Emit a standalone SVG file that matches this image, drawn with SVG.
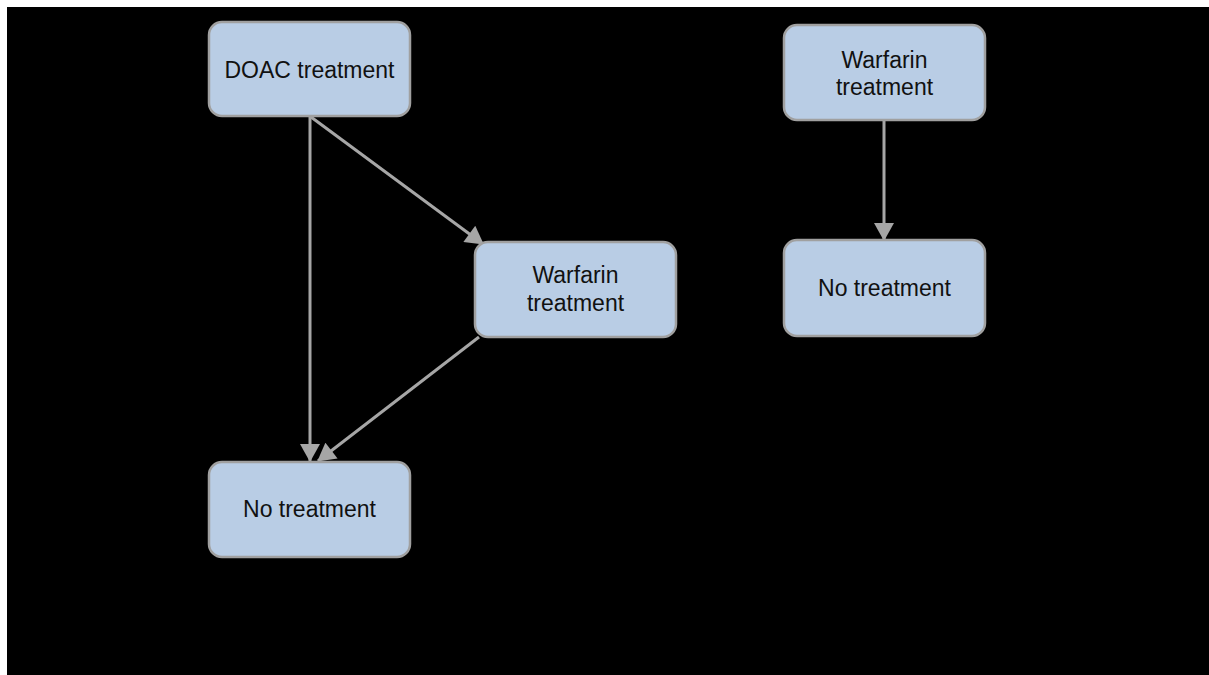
<svg xmlns="http://www.w3.org/2000/svg" width="1209" height="675" viewBox="0 0 1209 675">
  <style>
    .box { fill: #b9cde5; stroke: #a0a0a0; stroke-width: 2.5; }
    .lbl { font-family: "Liberation Sans", Arial, sans-serif; font-size: 23px; fill: #111111; text-anchor: middle; }
    .edge { stroke: #a6a6a6; stroke-width: 3; fill: none; marker-end: url(#arrow); }
  </style>
  <defs>
    <marker id="arrow" markerUnits="userSpaceOnUse" markerWidth="20" markerHeight="20" viewBox="0 0 18 20" refX="17" refY="10" orient="auto">
      <path d="M0,0 L18,10 L0,20 Z" fill="#a6a6a6"/>
    </marker>
  </defs>

  <rect x="0" y="0" width="1209" height="675" fill="#ffffff"/>
  <rect x="7" y="7" width="1202" height="668" fill="#000000"/>

  <g id="connectors">
    <line class="edge" x1="310" y1="117" x2="310" y2="461"/>
    <line class="edge" x1="311" y1="117" x2="483" y2="244"/>
    <line class="edge" x1="479" y1="337" x2="318" y2="461"/>
    <line class="edge" x1="884" y1="121" x2="884" y2="240"/>
  </g>

  <g id="doac">
    <rect class="box" x="209" y="22" width="201" height="94" rx="13"/>
    <text class="lbl" x="309.5" y="78">DOAC treatment</text>
  </g>

  <g id="warfarin-left">
    <rect class="box" x="475" y="242" width="201" height="95" rx="13"/>
    <text class="lbl" x="575.5" y="283">Warfarin</text>
    <text class="lbl" x="575.5" y="311">treatment</text>
  </g>

  <g id="none-left">
    <rect class="box" x="209" y="462" width="201" height="95" rx="13"/>
    <text class="lbl" x="309.5" y="517">No treatment</text>
  </g>

  <g id="warfarin-right">
    <rect class="box" x="784" y="25" width="201" height="95" rx="13"/>
    <text class="lbl" x="884.5" y="68">Warfarin</text>
    <text class="lbl" x="884.5" y="95">treatment</text>
  </g>

  <g id="none-right">
    <rect class="box" x="784" y="240" width="201" height="96" rx="13"/>
    <text class="lbl" x="884.5" y="296">No treatment</text>
  </g>
</svg>
